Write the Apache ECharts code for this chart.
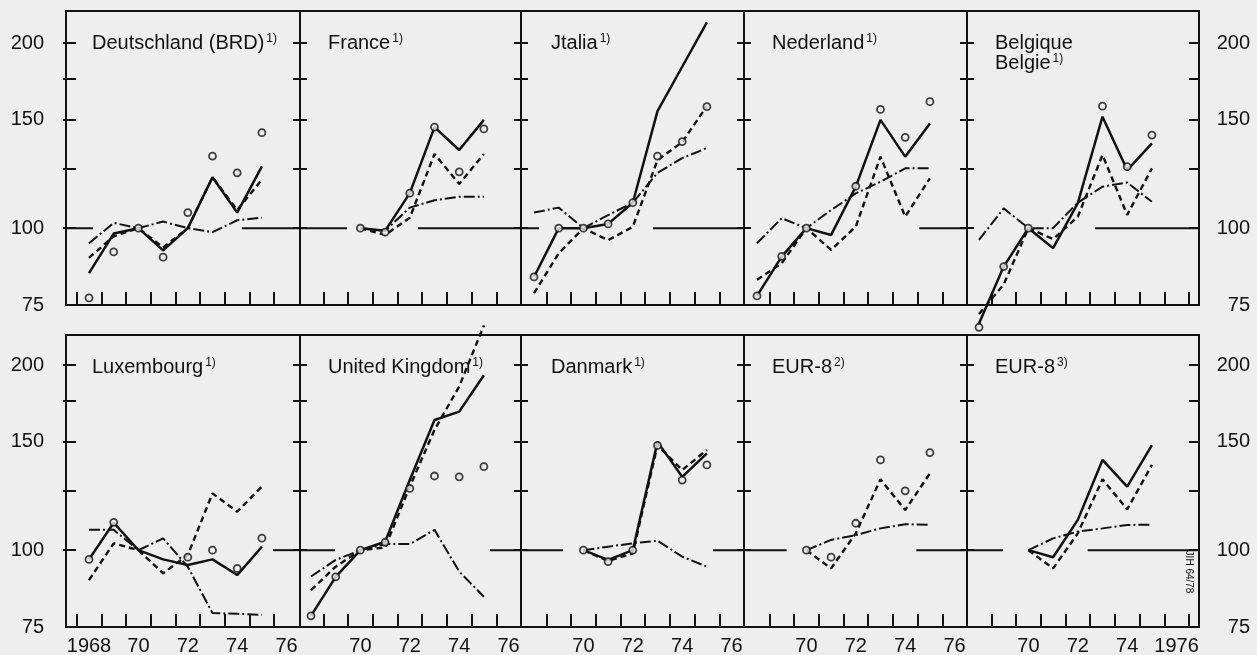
<!DOCTYPE html>
<html>
<head>
<meta charset="utf-8">
<script src="https://cdn.jsdelivr.net/npm/echarts@6/dist/echarts.min.js"></script>
<style>
  html, body { margin: 0; padding: 0; background: #eeeeee; }
  #chart { width: 1257px; height: 655px; }
</style>
</head>
<body>
<div id="chart"></div>
<script>
// ---------------- DATA ----------------
const YEARS = [1968, 1969, 1970, 1971, 1972, 1973, 1974, 1975];

const Y_TICKS = [100, 125, 150, 175, 200];
const Y_LABELS = [75, 100, 150, 200];
const X_TICKS = [1967.5, 1968.5, 1969.5, 1970.5, 1971.5, 1972.5, 1973.5, 1974.5, 1975.5, 1976.5];
const X_LABELS_FIRST = [1968, 1970, 1972, 1974, 1976];
const X_LABELS_OTHER = [1970, 1972, 1974, 1976];

// Deutschland (BRD)
const deSolid   = [84.5, 98, 100, 92, 100, 121, 106, 126];
const deDashed  = [89.5, 97, 100, 93, 100, 121, 107, 120];
const deDashDot = [94.5, 102, 100, 102.5, 100, 98.5, 103, 104];
const deCircles = [77, 91.5, 100, 89.7, 106, 131, 123, 143];
const deRefGap  = [1968.16, 1974.19];

// France
const frSolid   = [null, null, 100, 99, 114, 146, 134, 150];
const frDashed  = [null, null, 100, 97.5, 104, 132, 118, 132];
const frDashDot = [null, null, 100, 99, 108, 111, 112.5, 112.5];
const frCircles = [null, null, 100, 98.5, 114, 146, 123.5, 145];
const frRefGap  = [1969.46, 1972.33];

// Jtalia
const itSolid   = [83.3, 100, 100, 101.6, 110, 155, 183, 216];
const itDashed  = [78.4, 91, 100, 95.6, 100.5, 129, 138, 158];
const itDashDot = [106, 108, 100, 105, 110, 123, 130, 135];
const itCircles = [83.3, 100, 100, 101.6, 110, 131, 138.3, 157.6];
const itRefGap  = [1968.2, 1972.82];

// Nederland
const nlSolid   = [77.6, 89.9, 100, 97.5, 116.8, 150, 130.7, 148];
const nlDashed  = [82.4, 87.7, 100, 92.2, 100.6, 130.7, 104.4, 120.5];
const nlDashDot = [94.5, 103.8, 100, 107, 113.9, 119, 125.1, 125.1];
const nlCircles = [77.6, 90, 100, null, 117, 156, 140.5, 160.6];
const nlRefGap  = [1967.0, 1974.57];

// Belgique / Belgie
const beSolid   = [70, 86.6, 100, 92.8, 109.8, 151.8, 124.3, 137.4];
const beDashed  = [72.5, 81, 100, 96, 104.4, 131.5, 105.1, 125.1];
const beDashDot = [95.7, 107.7, 100, 100, 110, 116.8, 118.6, 110.4];
const beCircles = [69, 86.6, 100, null, null, 157.9, 125.9, 141.7];
const beRefGap  = [1967.0, 1972.7];

// Luxembourg
const luSolid   = [96.6, 110.8, 100, 96.6, 94.6, 96.6, 91.1, 101.3];
const luDashed  = [89.4, 102.6, 100, 91.7, 98.2, 123.7, 115.5, 126.9];
const luDashDot = [107.9, 107.9, 100, 104.5, 94, 79, 78.8, 78.5];
const luCircles = [96.6, 111, null, null, 97.4, 100, 93.4, 104.6];
const luRefGap  = [1967.0, 1975.45];

// United Kingdom
const ukSolid   = [78.2, 90.5, 100, 103.2, 130, 162.8, 168, 192.5];
const ukDashed  = [86.1, 94, 100, 101, 126.9, 156.9, 184.6, 232];
const ukDashDot = [90.6, 96.4, 100, 102.3, 102.3, 107.9, 92.3, 84];
const ukCircles = [78.2, 90.5, 100, 103, 126, 132, 131.6, 136.7];
const ukRefGap  = [1968.97, 1975.25];

// Danmark
const dkSolid   = [null, null, 100, 96.4, 100, 150, 131.6, 143.7];
const dkDashed  = [null, null, 100, 96, 98.8, 148.2, 135, 145.5];
const dkDashDot = [null, null, 100, 101.3, 102.6, 103.6, 97.6, 94];
const dkCircles = [null, null, 100, 95.8, 100, 148, 130, 137.6];
const dkRefGap  = [1969.17, 1975.25];

// EUR-8 (2)
const e2Solid   = [];
const e2Dashed  = [null, null, 100, 93.4, 106.5, 130.4, 116.2, 133.3];
const e2DashDot = [null, null, 100, 103.9, 105.8, 108.5, 110.2, 110];
const e2Circles = [null, null, 100, 97.4, 110.6, 140.2, 124.9, 144.1];
const e2RefGap  = [1969.2, 1974.45];

// EUR-8 (3)
const e3Solid   = [null, null, 100, 97.4, 112, 140.2, 126.9, 148.2];
const e3Dashed  = [null, null, 100, 93.4, 106.5, 130.4, 116.5, 137.6];
const e3DashDot = [null, null, 100, 104.5, 107.2, 108.5, 109.9, 110];
const e3Circles = [];
const e3RefGap  = [1968.97, 1972.4];

const TITLES = [
  ['Deutschland (BRD)', '1)'], ['France', '1)'], ['Jtalia', '1)'], ['Nederland', '1)'], ['Belgique|Belgie', '1)'],
  ['Luxembourg', '1)'], ['United Kingdom', '1)'], ['Danmark', '1)'], ['EUR-8', '2)'], ['EUR-8', '3)']
];

const PANELS = [
  { s: deSolid, d: deDashed, dd: deDashDot, c: deCircles, gap: deRefGap },
  { s: frSolid, d: frDashed, dd: frDashDot, c: frCircles, gap: frRefGap },
  { s: itSolid, d: itDashed, dd: itDashDot, c: itCircles, gap: itRefGap },
  { s: nlSolid, d: nlDashed, dd: nlDashDot, c: nlCircles, gap: nlRefGap },
  { s: beSolid, d: beDashed, dd: beDashDot, c: beCircles, gap: beRefGap },
  { s: luSolid, d: luDashed, dd: luDashDot, c: luCircles, gap: luRefGap },
  { s: ukSolid, d: ukDashed, dd: ukDashDot, c: ukCircles, gap: ukRefGap },
  { s: dkSolid, d: dkDashed, dd: dkDashDot, c: dkCircles, gap: dkRefGap },
  { s: e2Solid, d: e2Dashed, dd: e2DashDot, c: e2Circles, gap: e2RefGap },
  { s: e3Solid, d: e3Dashed, dd: e3DashDot, c: e3Circles, gap: e3RefGap }
];

// ---------------- LAYOUT ----------------
const FONT = "'Liberation Sans', Arial, Helvetica, sans-serif";
const INK = '#111111';
const BG = '#eeeeee';
const PX_PER_YEAR = 24.7;
const PX_PER_DECADE = 615;
const COLS = [
  { left: 66,  right: 300,  x68: 89,  titleX: 92 },
  { left: 300, right: 521,  x68: 311, titleX: 328 },
  { left: 521, right: 744,  x68: 534, titleX: 551 },
  { left: 744, right: 967,  x68: 757, titleX: 772 },
  { left: 967, right: 1199, x68: 979, titleX: 995 }
];
const ROWS = [
  { top: 11,  bottom: 305, titleY: 43 },
  { top: 335, bottom: 627, titleY: 367 }
];

const grids = [], xAxes = [], yAxes = [], series = [], graphics = [];

function pairs(arr) {
  const out = [];
  YEARS.forEach((y, k) => { if (arr[k] != null) out.push([y, arr[k]]); });
  return out;
}

PANELS.forEach((p, i) => {
  const r = Math.floor(i / 5), c = i % 5;
  const col = COLS[c], row = ROWS[r];
  const xmin = 1968 - (col.x68 - col.left) / PX_PER_YEAR;
  const xmax = 1968 + (col.right - col.x68) / PX_PER_YEAR;
  const ymax = 75 * Math.pow(10, (row.bottom - row.top) / PX_PER_DECADE);

  grids.push({
    left: col.left, top: row.top, width: col.right - col.left, height: row.bottom - row.top,
    show: true, borderColor: INK, borderWidth: 2, backgroundColor: 'transparent',
    containLabel: false, outerBoundsMode: 'none'
  });

  const xLabels = r === 1 ? (c === 0 ? X_LABELS_FIRST : X_LABELS_OTHER) : [];
  xAxes.push({
    gridIndex: i, type: 'value', min: xmin, max: xmax,
    axisLine: { show: false }, splitLine: { show: false },
    axisTick: {
      show: true, inside: true, length: 13,
      customValues: X_TICKS.filter(t => t > xmin + 0.05 && t < xmax - 0.05),
      lineStyle: { color: INK, width: 2 }
    },
    axisLabel: {
      show: r === 1, customValues: xLabels, margin: 9,
      fontSize: 20, fontFamily: FONT, color: INK,
      formatter: v => (v === 1968 || (v === 1976 && c === 4)) ? String(v) : String(v).slice(2)
    }
  });

  const yIndex = yAxes.length;
  yAxes.push({
    gridIndex: i, type: 'log', logBase: 10, min: 75, max: ymax, position: 'left',
    offset: c === 0 ? -10 : -7,
    axisLine: { show: false }, splitLine: { show: false },
    axisTick: { show: true, inside: false, length: c === 0 ? 13 : 14, customValues: Y_TICKS, lineStyle: { color: INK, width: 2 } },
    axisLabel: { show: c === 0, customValues: Y_LABELS, margin: 32, fontSize: 20, fontFamily: FONT, color: INK }
  });
  if (c === 4) {
    yAxes.push({
      gridIndex: i, type: 'log', logBase: 10, min: 75, max: ymax, position: 'right',
      axisLine: { show: false }, splitLine: { show: false },
      axisTick: { show: true, inside: true, length: 10, customValues: Y_TICKS, lineStyle: { color: INK, width: 2 } },
      axisLabel: { show: true, customValues: Y_LABELS, margin: 51, align: 'right', fontSize: 20, fontFamily: FONT, color: INK }
    });
  }

  // reference line at 100 (broken where the curves are)
  const xEnd = c === 4 ? xmax + 0.25 : xmax;
  const ref = [];
  if (p.gap[0] > xmin) { ref.push([xmin, 100], [p.gap[0], 100]); }
  ref.push([(p.gap[0] + p.gap[1]) / 2, '-']);
  ref.push([p.gap[1], 100], [xEnd, 100]);
  const base = { xAxisIndex: i, yAxisIndex: yIndex, silent: true, animation: false, clip: false };
  series.push(Object.assign({}, base, {
    type: 'line', data: ref, symbol: 'none', connectNulls: false,
    lineStyle: { color: INK, width: 2, type: 'solid' }
  }));
  if (p.dd.length) series.push(Object.assign({}, base, {
    type: 'line', data: pairs(p.dd), symbol: 'none',
    lineStyle: { color: INK, width: 2, type: [11, 3, 2, 3] }
  }));
  if (p.d.length) series.push(Object.assign({}, base, {
    type: 'line', data: pairs(p.d), symbol: 'none',
    lineStyle: { color: INK, width: 2.4, type: [6, 4] }
  }));
  if (p.s.length) series.push(Object.assign({}, base, {
    type: 'line', data: pairs(p.s), symbol: 'none',
    lineStyle: { color: INK, width: 2.5, type: 'solid' }
  }));
  if (p.c.length) series.push(Object.assign({}, base, {
    type: 'scatter', data: pairs(p.c), symbol: 'circle', symbolSize: 7, z: 5,
    itemStyle: { color: BG, borderColor: INK, borderWidth: 1.8 }
  }));

  // panel title
  const t = TITLES[i];
  const rich = {
    a: { fontSize: 20, fontFamily: FONT, fill: INK, color: INK },
    s: { fontSize: 12, fontFamily: FONT, fill: INK, color: INK, verticalAlign: 'top', padding: [0, 0, 0, 2] }
  };
  const lines = t[0].split('|');
  lines.forEach((ln, k) => {
    const last = k === lines.length - 1;
    graphics.push({
      type: 'text', x: col.titleX, y: row.titleY + k * 20, silent: true,
      style: {
        text: '{a|' + ln + '}' + (last ? '{s|' + t[1] + '}' : ''),
        rich: rich, verticalAlign: 'middle', align: 'left', fill: INK
      }
    });
  });
});

// archive mark at right edge
graphics.push({
  type: 'text', x: 1189, y: 572, rotation: -Math.PI / 2, silent: true,
  style: { text: 'JIH 64/78', fontSize: 10, fontFamily: FONT, fill: INK, align: 'center', verticalAlign: 'middle' }
});

const chart = echarts.init(document.getElementById('chart'), null, { renderer: 'canvas' });
chart.setOption({
  backgroundColor: BG,
  animation: false,
  grid: grids,
  xAxis: xAxes,
  yAxis: yAxes,
  series: series,
  graphic: graphics,
  tooltip: { show: false },
  legend: { show: false }
});
</script>
</body>
</html>
